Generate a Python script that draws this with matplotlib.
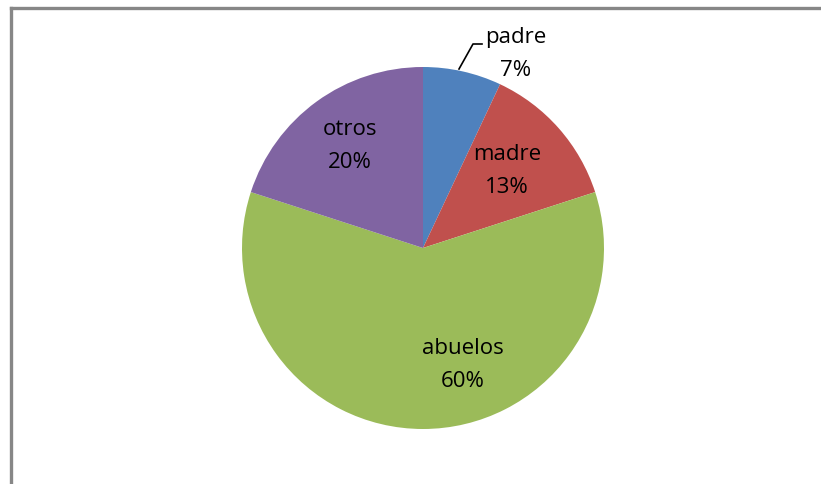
import matplotlib.pyplot as plt
from matplotlib.lines import Line2D

labels = ['padre', 'madre', 'abuelos', 'otros']
pcts = [7, 13, 60, 20]
colors = ['#4F81BD', '#C0504D', '#9BBB59', '#8064A2']

# label anchor positions in pixels (x, y from top)
label_pos = [(516, 54), (507, 171), (463, 365), (350, 146)]

W, H = 821, 484
fig = plt.figure(figsize=(W / 100, H / 100), dpi=100)
ax = fig.add_axes([0, 0, 1, 1])

cx, cy, r = 423, H - 248, 181
ax.pie(pcts, colors=colors, startangle=90, counterclock=False,
       center=(cx, cy), radius=r, frame=True,
       wedgeprops=dict(linewidth=0))
ax.set_xlim(0, W)
ax.set_ylim(0, H)
ax.set_aspect('equal')
ax.axis('off')

for lab, p, (x, y) in zip(labels, pcts, label_pos):
    ax.text(x, H - y, f'{lab}\n{p}%', ha='center', va='center',
            fontsize=16, family='Open Sans', linespacing=1.7, color='black')

# leader line for padre
ax.plot([459, 473, 482], [H - 69, H - 44, H - 44], color='black', lw=1.2)

# chart frame
fig.add_artist(Line2D([10.5 / W, 10.5 / W], [0, 1 - 7.5 / H], color='#878787', lw=2.4))
fig.add_artist(Line2D([10.5 / W, 1], [1 - 7.5 / H, 1 - 7.5 / H], color='#878787', lw=2.4))

fig.savefig('out.png', dpi=100)
